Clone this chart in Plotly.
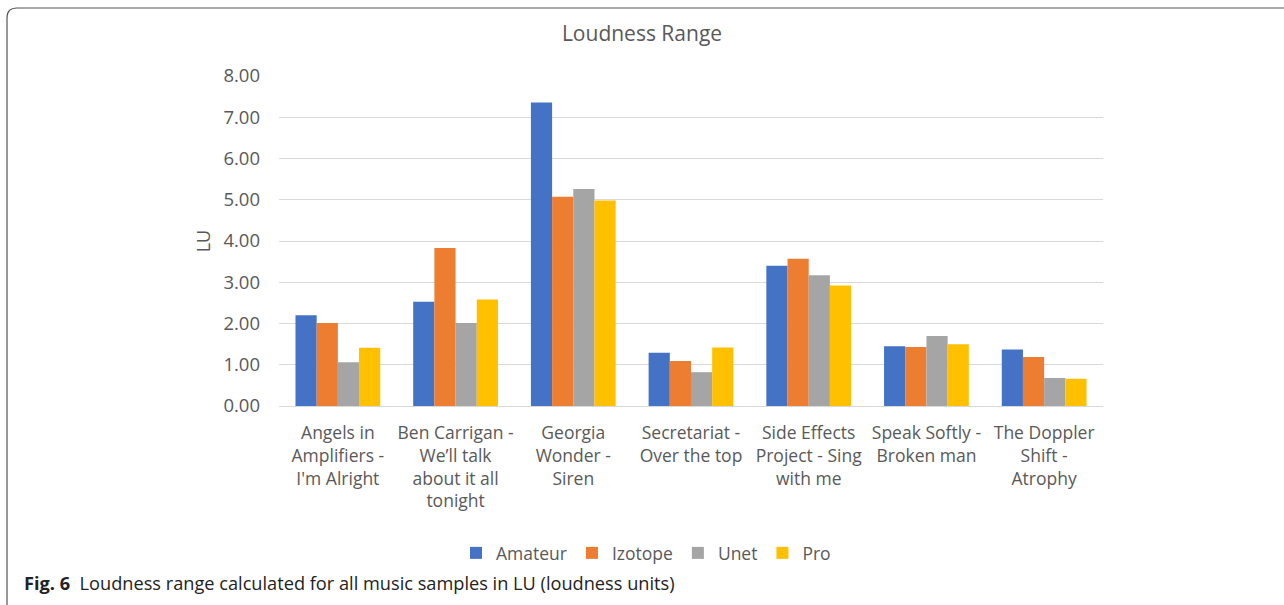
import plotly.graph_objects as go

categories = [
    "Angels in<br>Amplifiers -<br>I'm Alright",
    "Ben Carrigan -<br>We’ll talk<br>about it all<br>tonight",
    "Georgia<br>Wonder -<br>Siren",
    "Secretariat -<br>Over the top",
    "Side Effects<br>Project - Sing<br>with me",
    "Speak Softly -<br>Broken man",
    "The Doppler<br>Shift -<br>Atrophy",
]
amateur = [2.20, 2.53, 7.36, 1.29, 3.40, 1.45, 1.37]
izotope = [2.01, 3.83, 5.07, 1.09, 3.57, 1.43, 1.19]
unet = [1.06, 2.01, 5.26, 0.82, 3.17, 1.70, 0.68]
pro = [1.41, 2.58, 4.98, 1.42, 2.92, 1.50, 0.66]
series_names = ["Amateur", "Izotope", "Unet", "Pro"]
colors = ["#4472C4", "#ED7D31", "#A5A5A5", "#FFC000"]
tick_vals = [0, 1, 2, 3, 4, 5, 6, 7, 8]
tick_text = ["0.00", "1.00", "2.00", "3.00", "4.00", "5.00", "6.00", "7.00", "8.00"]

W, H = 1284, 605
L, R, T, B = 279, 1284 - 1103, 76, 605 - 406
pw, ph = W - L - R, H - T - B

def px(x):
    return (x - L) / pw

def py(y):
    return (H - B - y) / ph

fig = go.Figure()
for name, vals, c in zip(series_names, [amateur, izotope, unet, pro], colors):
    fig.add_trace(go.Bar(x=categories, y=vals, name=name, marker=dict(color=c, line=dict(width=0))))

font = "Open Sans"
grey = "#595959"
fig.update_layout(
    width=W, height=H,
    margin=dict(l=L, r=R, t=T, b=B, autoexpand=False),
    paper_bgcolor="white", plot_bgcolor="white",
    barmode="group", bargap=0.28, bargroupgap=0.0,
    title=dict(text="Loudness Range", x=0.5, xanchor="center", y=1 - 34 / H, yanchor="middle",
               font=dict(family=font, size=21, color=grey)),
    font=dict(family=font, size=18, color=grey),
    showlegend=True,
    legend=dict(orientation="h", x=px(646), xanchor="center", y=py(553), yanchor="middle",
                font=dict(family=font, size=17.5, color=grey), traceorder="normal",
                itemwidth=30, tracegroupgap=0),
    xaxis=dict(showgrid=False, showline=True, linecolor="#d9d9d9", linewidth=1,
               ticks="", tickfont=dict(family=font, size=17.5, color=grey),
               ticklabelstandoff=11, automargin=False),
    yaxis=dict(range=[0, 8], tickvals=tick_vals, ticktext=tick_text, showgrid=True,
               gridcolor="#d9d9d9", gridwidth=1, zeroline=False, showline=False,
               tickfont=dict(family=font, size=18.5, color=grey), ticklabelstandoff=18,
               title=dict(text="LU", standoff=8, font=dict(family=font, size=18, color=grey)),
               automargin=False),
)

# rounded frame (left/top)
r = 10
path = (f"M {px(7)} {py(612)} L {px(7)} {py(8 + r)} "
        f"Q {px(7)} {py(8)} {px(7 + r)} {py(8)} L {px(1295)} {py(8)}")
fig.add_shape(type="path", path=path, xref="paper", yref="paper",
              line=dict(color="#555555", width=1.2), layer="above")

fig.add_annotation(text="<b>Fig. 6</b>  Loudness range calculated for all music samples in LU (loudness units)",
                   xref="paper", yref="paper", x=px(22), y=py(583), xanchor="left", yanchor="middle",
                   showarrow=False, font=dict(family=font, size=18.2, color="#222222"))

fig.write_html("out.html", config={"displayModeBar": False},
               post_script="document.body.style.margin='0';document.body.style.overflow='hidden';")
